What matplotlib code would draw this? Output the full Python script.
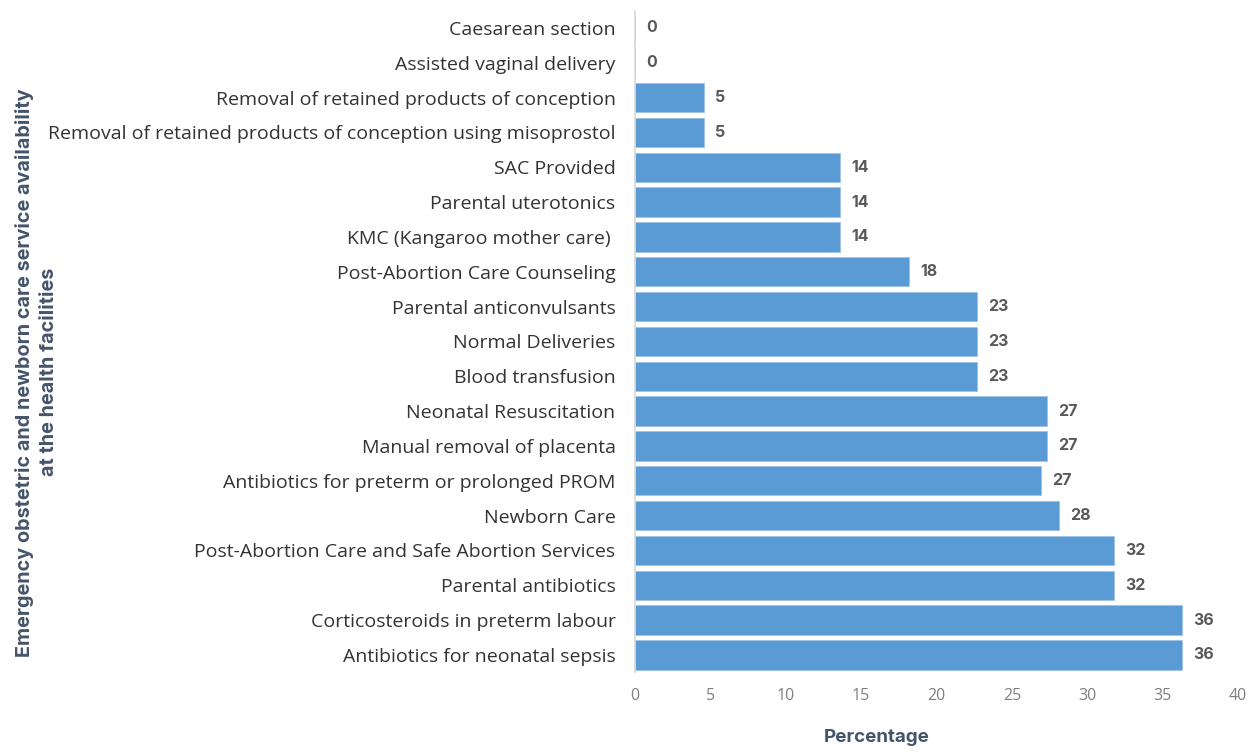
import numpy as np
import matplotlib.pyplot as plt

# categories, top to bottom as shown in the chart
services = [
    'Caesarean section',
    'Assisted vaginal delivery',
    'Removal of retained products of conception',
    'Removal of retained products of conception using misoprostol',
    'SAC Provided',
    'Parental uterotonics',
    'KMC (Kangaroo mother care) ',
    'Post-Abortion Care Counseling',
    'Parental anticonvulsants',
    'Normal Deliveries',
    'Blood transfusion',
    'Neonatal Resuscitation',
    'Manual removal of placenta',
    'Antibiotics for preterm or prolonged PROM',
    'Newborn Care',
    'Post-Abortion Care and Safe Abortion Services',
    'Parental antibiotics',
    'Corticosteroids in preterm labour',
    'Antibiotics for neonatal sepsis',
]
percent = [0, 0, 4.55, 4.55, 13.6, 13.6, 13.6, 18.2, 22.7, 22.7, 22.7,
           27.3, 27.3, 26.9, 28.1, 31.8, 31.8, 36.3, 36.3]
x_ticks = [0, 5, 10, 15, 20, 25, 30, 35, 40]

bar_color = '#5B9BD5'
title_color = '#44546A'

fig = plt.figure(figsize=(12.55, 7.52), dpi=100)
ax = fig.add_axes([0.506, 0.106, 0.4805, 0.880])

y = np.arange(len(services))
ax.barh(y, percent, height=0.84, color=bar_color, edgecolor='#9DC3E6', linewidth=0.6)
ax.set_ylim(len(services) - 0.5, -0.5)
ax.set_xlim(0, 40)

# value labels
for yi, v in zip(y, percent):
    ax.annotate(f'{round(v)}', (v, yi), xytext=(8, 0), textcoords='offset points',
                va='center', ha='left', fontsize=11.5, fontweight='bold',
                color='#595959', family='Inter')

ax.set_yticks(y)
ax.set_yticklabels(services, family='Open Sans', fontsize=14, color='#333333')
ax.set_xticks(x_ticks)
ax.set_xticklabels([str(t) for t in x_ticks], family='Open Sans', fontsize=11.5,
                   color='#7F7F7F')
ax.tick_params(axis='both', length=0)
ax.tick_params(axis='y', pad=14)
ax.tick_params(axis='x', pad=11)

for side in ['top', 'right', 'bottom']:
    ax.spines[side].set_visible(False)
ax.spines['left'].set_color('#D9D9D9')
ax.spines['left'].set_linewidth(1.2)

# axis titles
fig.text(877 / 1255, 1 - 738 / 752, 'Percentage', ha='center', va='center',
         family='Inter', fontsize=13.5, fontweight='bold', color=title_color)
fig.text(0.029, 0.505,
         'Emergency obstetric and newborn care service availability\nat the health facilities',
         rotation=90, ha='center', va='center', family='Inter', fontsize=14.3,
         fontweight='bold', color=title_color, linespacing=1.45)

fig.savefig('out.png', dpi=100)
